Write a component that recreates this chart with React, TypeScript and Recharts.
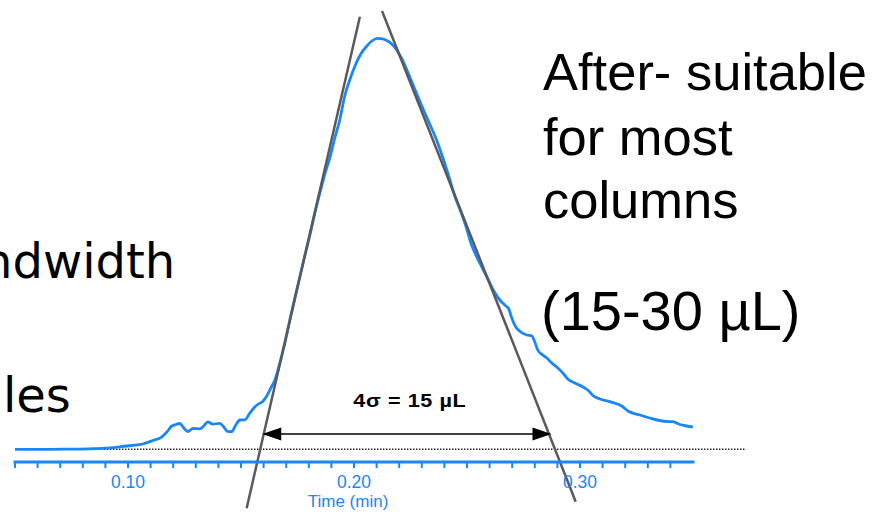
import React from "react";
import { ComposedChart, Line, ReferenceLine, XAxis, YAxis } from "recharts";

// retention time (min) and detector signal (a.u., baseline = 0)
const times = [
  0.05, 0.061, 0.072, 0.0831, 0.0897, 0.0964, 0.1017, 0.1065, 0.111, 0.115, 0.1172, 0.1194,
  0.1212, 0.1229, 0.1247, 0.1265, 0.1287, 0.1318, 0.1335, 0.1353, 0.1375, 0.1406, 0.1424,
  0.1442, 0.1459, 0.1477, 0.1495, 0.1517, 0.1539, 0.1557, 0.1574, 0.1596, 0.1614, 0.1632,
  0.165, 0.1672, 0.1694, 0.1716, 0.1738, 0.176, 0.1782, 0.1804, 0.1827, 0.1849, 0.1871,
  0.1893, 0.1915, 0.1937, 0.1959, 0.1981, 0.2008, 0.203, 0.2057, 0.2079, 0.2105, 0.2127,
  0.2145, 0.2167, 0.2189, 0.2212, 0.2234, 0.2256, 0.2278, 0.2304, 0.2335, 0.2362, 0.2389,
  0.2415, 0.2446, 0.2473, 0.2499, 0.2517, 0.2535, 0.2561, 0.2588, 0.2614, 0.2645, 0.2667,
  0.2685, 0.2698, 0.2716, 0.2738, 0.2765, 0.2787, 0.28, 0.2813, 0.2835, 0.2853, 0.2875,
  0.2897, 0.2924, 0.2946, 0.2977, 0.3021, 0.3039, 0.3057, 0.3088, 0.3132, 0.3185, 0.3212,
  0.3265, 0.3309, 0.3353, 0.3384, 0.3411, 0.3442, 0.3473, 0.35,
];
const signal = [
  0, 0, 0.1, 0.5, 1.1, 2.5, 3.8, 5.3, 8.8, 12.5, 17.3, 23.3,
  24.8, 25.8, 21.3, 17.8, 20.8, 20.5, 23.3, 27.5, 25.1, 26, 22.3,
  17.6, 17.8, 24.3, 29.3, 29.5, 36.3, 41.3, 44.8, 47.8, 53.3, 61.3,
  69.3, 86.3, 106.3, 129.3, 151.3, 172.3, 193.3, 213.3, 236.3, 256.3, 275.3,
  291.3, 311.3, 329.3, 353.3, 369.3, 385.3, 395.3, 403.3, 408.3, 411, 410.5,
  408.8, 405.3, 399.3, 390.3, 379.3, 367.3, 355.3, 341.3, 325.3, 311.3, 294.3,
  276.3, 253.3, 237.3, 220.3, 206.3, 196.3, 184.3, 172.3, 160.3, 149.3, 144.3,
  140.3, 131.3, 122.3, 117.3, 114.3, 113.3, 107.3, 99.3, 94.3, 91.3, 86.3,
  82.3, 76.3, 70.3, 66.3, 61.3, 58.3, 53.8, 50.3, 47.6, 43.3, 38.3,
  34.3, 31.3, 28.8, 27.8, 27.6, 24.8, 23.3, 22.3,
];

const xTicks = [
  0.05, 0.06, 0.07, 0.08, 0.09, 0.1, 0.11, 0.12, 0.13, 0.14, 0.15, 0.16, 0.17, 0.18, 0.19,
  0.2, 0.21, 0.22, 0.23, 0.24, 0.25, 0.26, 0.27, 0.28, 0.29, 0.3, 0.31, 0.32, 0.33, 0.34,
];

// tangents at the inflection points and the 4σ width between them
const leftTangent = [
  { x: 0.1525, y: -58.9 },
  { x: 0.2026, y: 432.6 },
];
const rightTangent = [
  { x: 0.2124, y: 438.3 },
  { x: 0.2981, y: -52.4 },
];
const widthArrow = [
  { x: 0.1594, y: 15.3 },
  { x: 0.2874, y: 15.3 },
];
const baseline = [
  { x: 0.0721, y: 0 },
  { x: 0.3735, y: 0 },
];

const BLUE = "#1a86f9";

function WidthArrow(props: any) {
  const { x1, y1, x2 } = props;
  const h = 19;
  const w = 6.5;
  const cx = (x1 + x2) / 2 + 3;
  return (
    <g>
      <line x1={x1 + 4} y1={y1} x2={x2 - 4} y2={y1} stroke="#000" strokeWidth={1.6} />
      <polygon points={`${x1},${y1} ${x1 + h},${y1 - w} ${x1 + h},${y1 + w}`} fill="#000" />
      <polygon points={`${x2},${y1} ${x2 - h},${y1 - w} ${x2 - h},${y1 + w}`} fill="#000" />
      {/* the label in the source is a little stretched sideways */}
      <text
        transform={`translate(${cx},${y1 - 27}) scale(1.2,1)`}
        textAnchor="middle"
        fill="#000"
        style={{ fontSize: 18, fontWeight: 700, letterSpacing: 0.5 }}
      >
        4σ = 15 µL
      </text>
    </g>
  );
}

export default function App() {
  const rows = times.map((t, i) => ({ t, signal: signal[i] }));

  return (
    <div
      style={{
        position: "absolute",
        left: 0,
        top: 0,
        width: 875,
        height: 512,
        background: "#fff",
        fontFamily: "'Liberation Sans', Arial, sans-serif",
      }}
    >
      <ComposedChart
        width={875}
        height={512}
        data={rows}
        margin={{ top: 10, right: 182, bottom: 0, left: 15 }}
      >
        <XAxis
          dataKey="t"
          type="number"
          domain={[0.05, 0.35]}
          ticks={xTicks}
          interval={0}
          allowDataOverflow
          height={50}
          tickSize={6}
          tickMargin={8}
          axisLine={{ stroke: BLUE, strokeWidth: 3, strokeLinecap: "square" }}
          tickLine={{ stroke: BLUE, strokeWidth: 2 }}
          tick={{ fill: BLUE, fontSize: 17.5 }}
          tickFormatter={(v: number) => (Math.round(v * 100) % 10 === 0 ? v.toFixed(2) : "")}
          label={{
            value: "Time (min)",
            position: "insideBottom",
            offset: 5,
            dx: -6,
            fill: BLUE,
            fontSize: 17,
          }}
        />
        <YAxis type="number" domain={[-12.7, 439.3]} allowDataOverflow hide width={0} />
        <ReferenceLine
          segment={baseline}
          ifOverflow="visible"
          stroke="#222"
          strokeWidth={1.5}
          strokeDasharray="1.5 1.5"
        />
        <Line
          type="monotone"
          dataKey="signal"
          stroke={BLUE}
          strokeWidth={2.8}
          dot={false}
          isAnimationActive={false}
        />
        <ReferenceLine segment={leftTangent} ifOverflow="visible" stroke="#5a5a5a" strokeWidth={2.5} />
        <ReferenceLine segment={rightTangent} ifOverflow="visible" stroke="#5a5a5a" strokeWidth={2.5} />
        <ReferenceLine segment={widthArrow} ifOverflow="visible" shape={WidthArrow} />
      </ComposedChart>

      <svg
        width={875}
        height={512}
        style={{ position: "absolute", left: 0, top: 0, pointerEvents: "none" }}
      >
        <g fontFamily="'DejaVu Sans', Verdana, sans-serif" fontSize={48} fill="#000">
          <text x={-18} y={278}>ndwidth</text>
          <text x={3} y={412}>les</text>
        </g>
        <g fontFamily="'Liberation Sans', Arial, sans-serif" fill="#000">
          <text x={543} y={90} fontSize={52.5}>After- suitable</text>
          <text x={543} y={155} fontSize={52.5}>for most</text>
          <text x={543} y={218} fontSize={52.5}>columns</text>
          <text x={541} y={330} fontSize={56}>(15-30 µL)</text>
        </g>
      </svg>
    </div>
  );
}
